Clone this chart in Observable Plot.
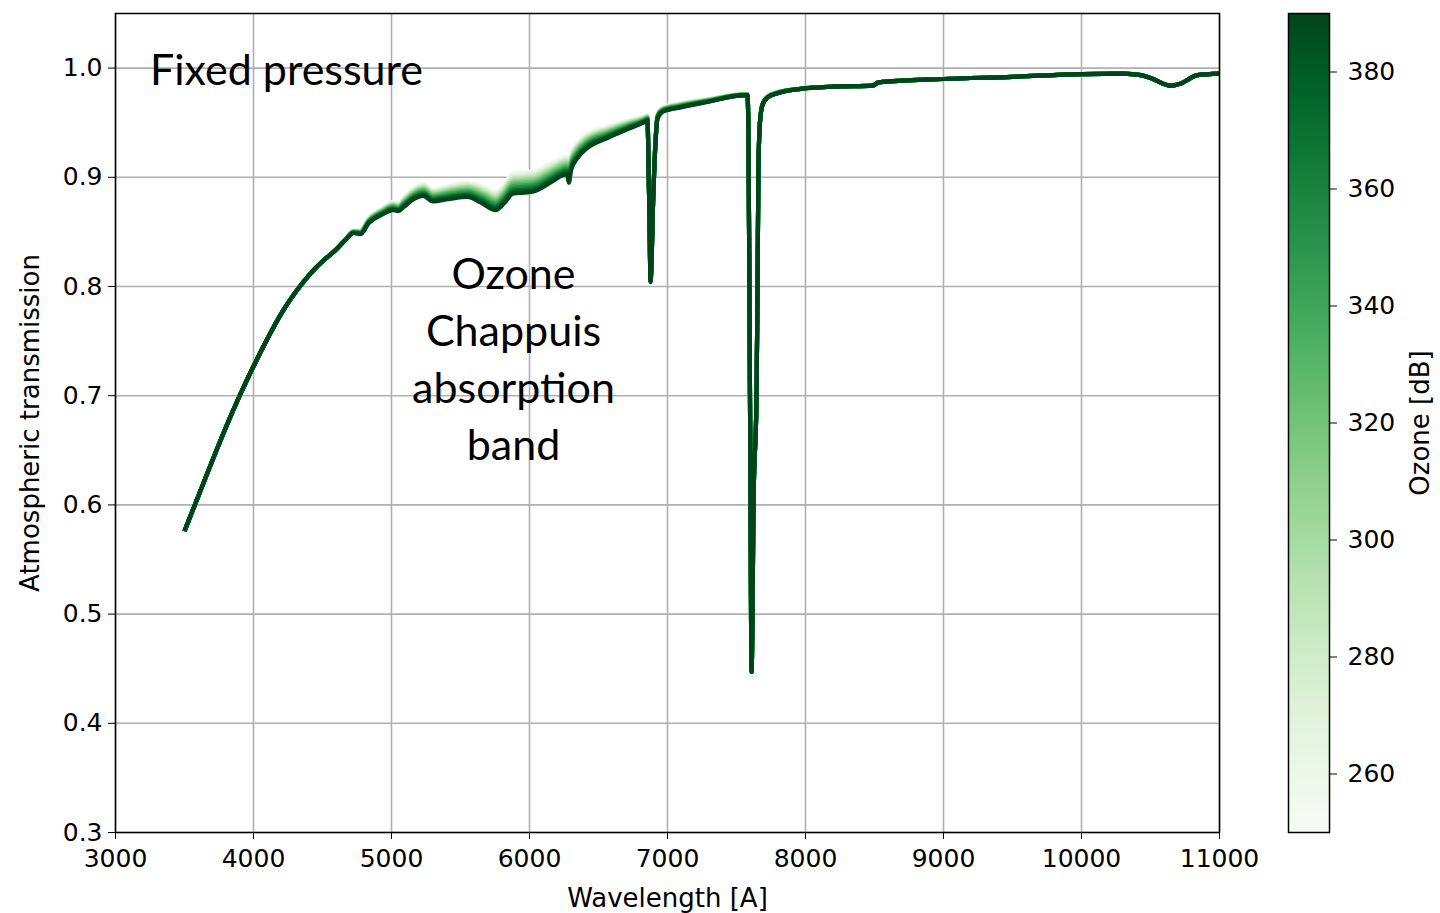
<!DOCTYPE html>
<html>
<head>
<meta charset="utf-8">
<script src="https://cdn.jsdelivr.net/npm/d3@7"></script>
<script src="https://cdn.jsdelivr.net/npm/@observablehq/plot@0.6"></script>
<style>
  html, body { margin: 0; padding: 0; background: #fff; }
  #figure { position: relative; width: 1440px; height: 913px; background: #fff; }
  #figure > div, #figure > svg { position: absolute; top: 0; }
</style>
</head>
<body>
<div id="figure"></div>
<script>
// Wavelength grid [Angstrom]
const wavelength = [
  3500, 3600, 3700, 3800, 3900, 4000, 4100, 4200, 4300, 4400,
  4450, 4500, 4600, 4670, 4725, 4775, 4835, 4935, 5010, 5050,
  5090, 5160, 5230, 5300, 5410, 5550, 5645, 5755, 5815, 5880,
  5960, 6030, 6150, 6245, 6272, 6285, 6300, 6350, 6420, 6565,
  6730, 6840, 6855, 6862, 6870, 6877, 6898, 6913, 6928, 6964,
  7095, 7290, 7550, 7580, 7587, 7594, 7601, 7609, 7616, 7623,
  7645, 7652, 7659, 7670, 7688, 7725, 7800, 7965, 8200, 8490,
  8530, 9000, 9500, 10000, 10300, 10430, 10500, 10645, 10720, 10840,
  11000
];

// Atmospheric transmission for the highest ozone column (390 DU)
const transmission390 = [
  0.576, 0.608, 0.640, 0.671, 0.700, 0.727, 0.752, 0.775, 0.794, 0.810,
  0.817, 0.823, 0.834, 0.843, 0.849, 0.848, 0.858, 0.866, 0.870, 0.869,
  0.873, 0.880, 0.883, 0.878, 0.880, 0.882, 0.877, 0.870, 0.876, 0.885,
  0.886, 0.887, 0.895, 0.902, 0.903, 0.895, 0.906, 0.918, 0.927, 0.936,
  0.945, 0.951, 0.952, 0.915, 0.855, 0.804, 0.886, 0.931, 0.954, 0.960,
  0.964, 0.969, 0.975, 0.975, 0.930, 0.790, 0.620, 0.447, 0.500, 0.600,
  0.700, 0.790, 0.910, 0.950, 0.966, 0.973, 0.977, 0.981, 0.983, 0.984,
  0.987, 0.990, 0.992, 0.9945, 0.995, 0.9936, 0.991, 0.984, 0.986, 0.9936,
  0.995
];

// Chappuis band optical depth per 100 DU of ozone
const ozoneDepth = [
  0, 0, 0, 0, 0, 0, 0, 0, 0, 0,
  0, 0, 0, 0.001, 0.002, 0.003, 0.004, 0.005, 0.006, 0.006,
  0.007, 0.008, 0.009, 0.009, 0.010, 0.011, 0.013, 0.014, 0.014, 0.015,
  0.015, 0.015, 0.014, 0.013, 0.013, 0.013, 0.012, 0.011, 0.010, 0.008,
  0.006, 0.004, 0.004, 0.004, 0.004, 0.004, 0.004, 0.004, 0.003, 0.003,
  0.003, 0.002, 0.001, 0.001, 0.001, 0.001, 0.001, 0.001, 0.001, 0.001,
  0.001, 0.001, 0.001, 0.001, 0.001, 0.001, 0.001, 0, 0, 0,
  0, 0, 0, 0, 0, 0, 0, 0, 0, 0,
  0
];

// Ozone columns drawn, lightest first so the densest column sits on top
const ozoneLevels = [250, 260, 270, 280, 290, 300, 310, 320, 330, 340, 350, 360, 370, 380, 390];
const ozoneDomain = [250, 390];

const xTicks = [3000, 4000, 5000, 6000, 7000, 8000, 9000, 10000, 11000];
const yTicks = [0.3, 0.4, 0.5, 0.6, 0.7, 0.8, 0.9, 1.0];
const colorTicks = [260, 280, 300, 320, 340, 360, 380];

// Beer-Lambert scaling of each curve relative to the 390 DU column
const rows = ozoneLevels.flatMap(oz =>
  wavelength.map((wl, i) => ({
    wl,
    oz,
    t: transmission390[i] * Math.exp(ozoneDepth[i] * (390 - oz) / 100)
  }))
);

const tickFont = 25;
const labelFont = 26;
const baseStyle = {
  fontFamily: "'DejaVu Sans', sans-serif",
  fontSize: tickFont + "px",
  color: "black",
  background: "transparent",
  overflow: "visible"
};
const gridColor = "#b0b0b0";
const annotFont = "Lato, 'Noto Sans', sans-serif";

const main = Plot.plot({
  width: 1440,
  height: 913,
  marginLeft: 115,
  marginRight: 221,
  marginTop: 13,
  marginBottom: 81,
  style: baseStyle,
  x: {domain: [3000, 11000]},
  y: {domain: [0.3, 1.05]},
  color: {type: "linear", scheme: "greens", domain: ozoneDomain},
  marks: [
    Plot.gridX(xTicks, {stroke: gridColor, strokeOpacity: 1, strokeWidth: 1.6}),
    Plot.gridY(yTicks, {stroke: gridColor, strokeOpacity: 1, strokeWidth: 1.6}),
    Plot.line(rows, {x: "wl", y: "t", z: "oz", stroke: "oz", strokeWidth: 4.2,
      strokeLinejoin: "round", strokeLinecap: "butt", curve: "monotone-x"}),
    Plot.axisX(xTicks, {tickSize: 7, tickPadding: 10, tickFormat: d3.format("d"), label: null, fontSize: tickFont}),
    Plot.axisY(yTicks, {tickSize: 7, tickPadding: 6, tickFormat: d3.format(".1f"), label: null, fontSize: tickFont}),
    Plot.frame({stroke: "black", strokeWidth: 1.5}),
    Plot.text(["Wavelength [A]"], {frameAnchor: "bottom", dy: 66, fontSize: labelFont,
      textAnchor: "middle", lineAnchor: "middle"}),
    Plot.text(["Atmospheric transmission"], {frameAnchor: "left", dx: -85, rotate: -90, fontSize: labelFont,
      textAnchor: "middle", lineAnchor: "middle"}),
    Plot.text(["Fixed pressure"], {x: 3250, y: 0.997, textAnchor: "start", lineAnchor: "middle",
      fontSize: 43, fontFamily: annotFont}),
    Plot.text(["Ozone\nChappuis\nabsorption\nband"], {x: 5884, y: 0.736, textAnchor: "middle", lineAnchor: "middle",
      lineHeight: 1.326, fontSize: 43, fontFamily: annotFont})
  ]
});

// Colour bar for the ozone column
const steps = d3.range(ozoneDomain[0], ozoneDomain[1], 0.5);
const bar = Plot.plot({
  width: 152,
  height: 913,
  marginLeft: 0,
  marginRight: 111,
  marginTop: 13,
  marginBottom: 81,
  style: baseStyle,
  x: {domain: [0, 1], axis: null},
  y: {domain: ozoneDomain},
  color: {type: "linear", scheme: "greens", domain: ozoneDomain},
  marks: [
    Plot.rect(steps, {x1: 0, x2: 1, y1: d => d, y2: d => d + 0.5, fill: d => d + 0.25, shapeRendering: "crispEdges"}),
    Plot.frame({stroke: "black", strokeWidth: 1.5}),
    Plot.axisY(colorTicks, {anchor: "right", tickSize: 7, tickPadding: 11, label: null, fontSize: tickFont}),
    Plot.text(["Ozone [dB]"], {frameAnchor: "right", dx: 91, rotate: -90, fontSize: labelFont,
      textAnchor: "middle", lineAnchor: "middle"})
  ]
});

const fig = document.getElementById("figure");
main.style.left = "0px";
bar.style.left = "1288px";
fig.appendChild(main);
fig.appendChild(bar);
</script>
</body>
</html>
